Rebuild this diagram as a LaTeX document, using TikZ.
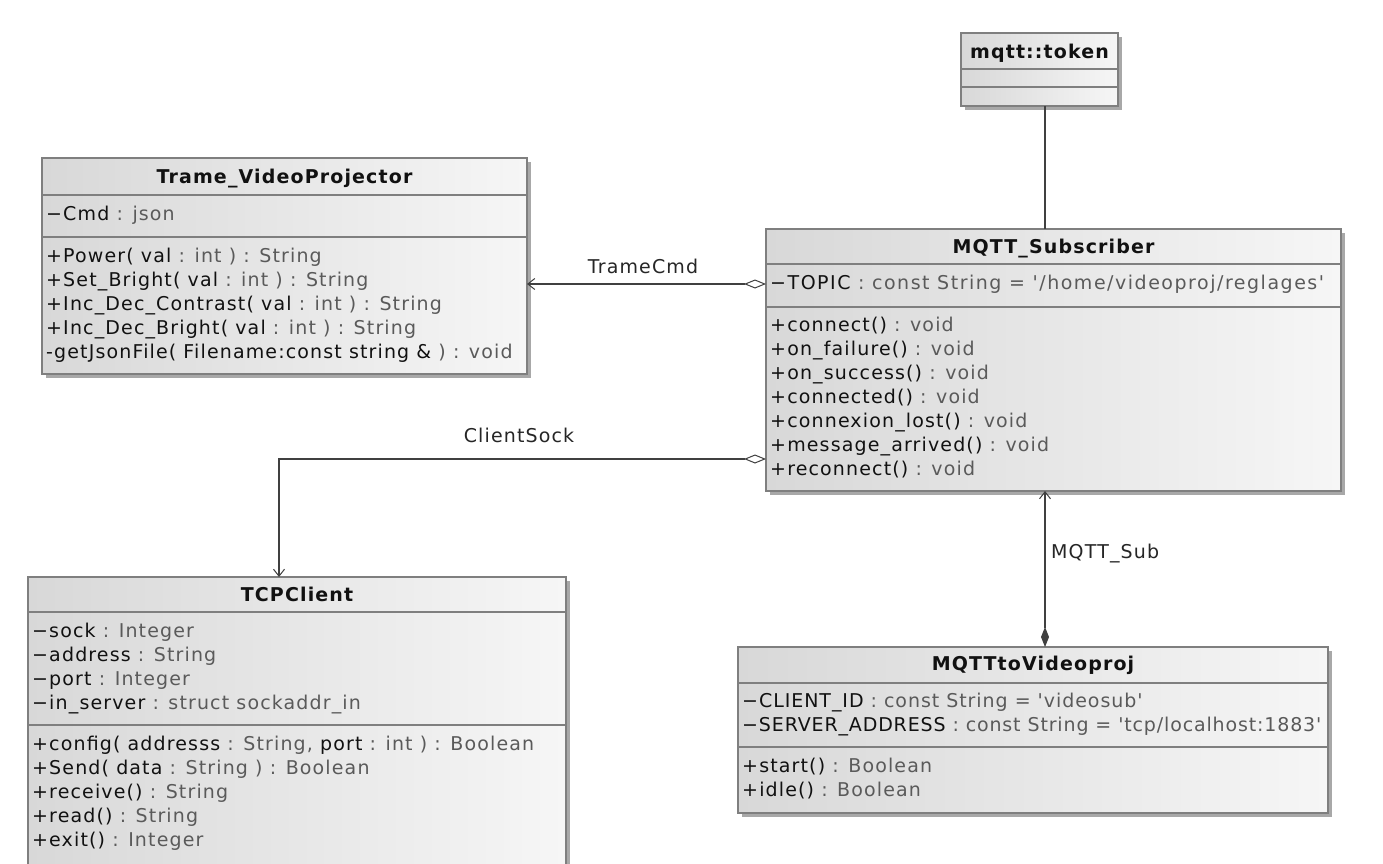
\documentclass[tikz,border=0pt]{standalone}
\usepackage{fontspec}
\setmainfont{DejaVu Sans}[Ligatures=TeXOff,LetterSpace=6]
\usetikzlibrary{arrows.meta,shadows,calc}
\definecolor{bord}{HTML}{7F7F7F}
\definecolor{shad}{HTML}{A8A8A8}
\definecolor{fillL}{HTML}{D8D8D8}
\definecolor{fillR}{HTML}{F6F6F6}
\definecolor{ink}{HTML}{111111}
\definecolor{typ}{HTML}{5A5A5A}
\definecolor{connc}{HTML}{404040}
\newcommand\ty[1]{\textcolor{typ}{#1}}
\begin{document}
\begin{tikzpicture}[x=1pt,y=-1pt,
  cls/.style={draw=bord, line width=1.3pt, left color=fillL, right color=fillR,
    inner sep=0pt, outer sep=0pt, anchor=north west,
    drop shadow={shadow xshift=4pt, shadow yshift=-4pt, fill=shad, opacity=1}},
  divider/.style={draw=bord, line width=1.3pt},
  txt/.style={anchor=base west, inner sep=0pt, text=ink, font=\fontsize{19}{24}\selectfont},
  ttl/.style={anchor=base, inner sep=0pt, text=ink, font=\fontsize{19}{24}\selectfont\bfseries},
  lbl/.style={txt, text=black!85},
  conn/.style={draw=connc, line width=1.1pt},
  aggr/.style={conn, {Diamond[open,length=22pt,width=9pt,line width=1pt,fill=white]}-{Straight Barb[length=7pt,width=11pt,line width=1pt]}},
  comp/.style={conn, {Diamond[length=20pt,width=8pt,fill=connc]}-{Straight Barb[length=7pt,width=11pt,line width=1pt]}}
]
\useasboundingbox (0,0) rectangle (1383,864);
\clip (0,0) rectangle (1383,864);
\fill[white] (0,0) rectangle (1383,864);

% ---------- mqtt::token
\node[cls, minimum width=157pt, minimum height=73pt] (tok) at (961,33) {};
\draw[divider] (tok.west |- 0,69) -- (tok.east |- 0,69);
\draw[divider] (tok.west |- 0,87) -- (tok.east |- 0,87);
\node[ttl] (tokT) at (tok.north |- 0,59) {mqtt::token};

% ---------- Trame_VideoProjector
\node[cls, minimum width=485pt, minimum height=216pt] (tp) at (42,158) {};
\draw[divider] (tp.west |- 0,195) -- (tp.east |- 0,195);
\draw[divider] (tp.west |- 0,237) -- (tp.east |- 0,237);
\node[ttl] (tpT) at (tp.north |- 0,183) {Trame\_VideoProjector};
\node[txt] (tpA1) at (46,220) {−Cmd \ty{: json}};
\node[txt] (tpM1) at (46,262) {+Power( val \ty{: int ) : String}};
\node[txt] (tpM2) at (46,286) {+Set\_Bright( val \ty{: int ) : String}};
\node[txt] (tpM3) at (46,310) {+Inc\_Dec\_Contrast( val \ty{: int ) : String}};
\node[txt] (tpM4) at (46,334) {+Inc\_Dec\_Bright( val \ty{: int ) : String}};
\node[txt] (tpM5) at (46,358) {-getJsonFile( Filename:const string \& \ty{) : void}};

% ---------- MQTT_Subscriber
\node[cls, minimum width=575pt, minimum height=262pt] (sub) at (766,229) {};
\draw[divider] (sub.west |- 0,264) -- (sub.east |- 0,264);
\draw[divider] (sub.west |- 0,307) -- (sub.east |- 0,307);
\node[ttl] (subT) at (sub.north |- 0,253) {MQTT\_Subscriber};
\node[txt] (subA1) at (770,289) {\addfontfeature{LetterSpace=8}−TOPIC \ty{: const String = '/home/videoproj/reglages'}};
\node[txt] (subM1) at (770,331) {+connect() \ty{: void}};
\node[txt] (subM2) at (770,355) {+on\_failure() \ty{: void}};
\node[txt] (subM3) at (770,379) {+on\_success() \ty{: void}};
\node[txt] (subM4) at (770,403) {+connected() \ty{: void}};
\node[txt] (subM5) at (770,427) {+connexion\_lost() \ty{: void}};
\node[txt] (subM6) at (770,451) {+message\_arrived() \ty{: void}};
\node[txt] (subM7) at (770,475) {+reconnect() \ty{: void}};

% ---------- TCPClient
\node[cls, minimum width=538pt, minimum height=290pt] (tcp) at (28,577) {};
\draw[divider] (tcp.west |- 0,612) -- (tcp.east |- 0,612);
\draw[divider] (tcp.west |- 0,725) -- (tcp.east |- 0,725);
\node[ttl] (tcpT) at (tcp.north |- 0,601) {TCPClient};
\node[txt] (tcpA1) at (32,637) {−sock \ty{: Integer}};
\node[txt] (tcpA2) at (32,661) {−address \ty{: String}};
\node[txt] (tcpA3) at (32,685) {−port \ty{: Integer}};
\node[txt] (tcpA4) at (32,709) {−in\_server \ty{: struct sockaddr\_in}};
\node[txt] (tcpM1) at (32,750) {+config( addresss \ty{: String,} port \ty{: int ) : Boolean}};
\node[txt] (tcpM2) at (32,774) {+Send( data \ty{: String ) : Boolean}};
\node[txt] (tcpM3) at (32,798) {+receive() \ty{: String}};
\node[txt] (tcpM4) at (32,822) {+read() \ty{: String}};
\node[txt] (tcpM5) at (32,846) {+exit() \ty{: Integer}};

% ---------- MQTTtoVideoproj
\node[cls, minimum width=590pt, minimum height=166pt] (mv) at (738,647) {};
\draw[divider] (mv.west |- 0,683) -- (mv.east |- 0,683);
\draw[divider] (mv.west |- 0,747) -- (mv.east |- 0,747);
\node[ttl] (mvT) at (mv.north |- 0,670) {MQTTtoVideoproj};
\node[txt] (mvA1) at (742,707) {\addfontfeature{LetterSpace=5}−CLIENT\_ID \ty{: const String = 'videosub'}};
\node[txt] (mvA2) at (742,731) {\addfontfeature{LetterSpace=4.5}−SERVER\_ADDRESS \ty{: const String = 'tcp/localhost:1883'}};
\node[txt] (mvM1) at (742,772) {+start() \ty{: Boolean}};
\node[txt] (mvM2) at (742,796) {+idle() \ty{: Boolean}};

% ---------- connectors
\coordinate (lx) at (1045,0);
\coordinate (csx) at (279,0);
\coordinate (trY) at (0,284);
\coordinate (csY) at (0,459);
\draw[conn] (tok.south -| lx) -- (sub.north -| lx);
\draw[aggr] (sub.west |- trY) -- (tp.east |- trY);
\node[lbl, anchor=base] (lblTC) at (643,273) {TrameCmd};
\draw[aggr] (sub.west |- csY) -- (csx |- csY) -- (tcp.north -| csx);
\node[lbl, anchor=base] (lblCS) at (519,442) {ClientSock};
\draw[comp] (mv.north -| lx) -- (sub.south -| lx);
\node[lbl] (lblMS) at (1051,558) {MQTT\_Sub};
\end{tikzpicture}
\end{document}
